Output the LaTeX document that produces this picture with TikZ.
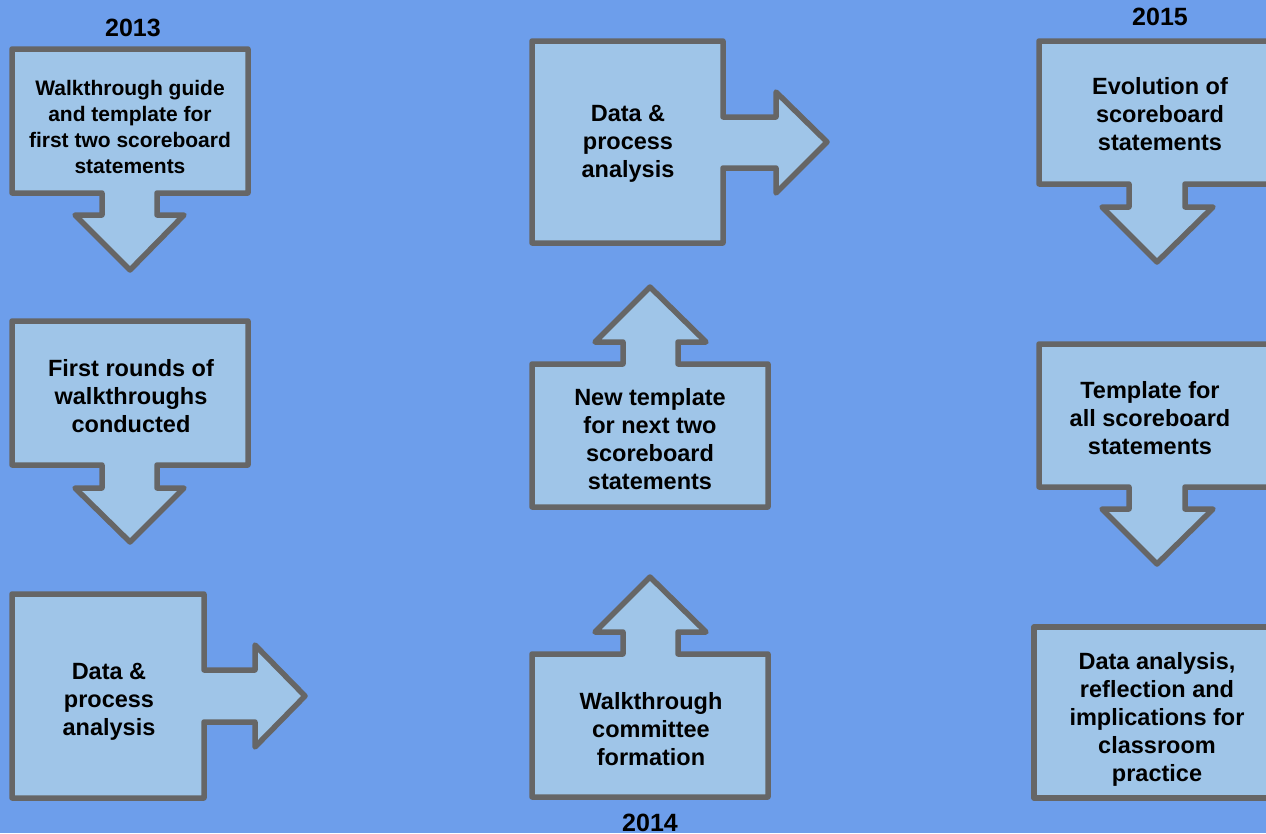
\documentclass[tikz,border=0pt]{standalone}
\usepackage{fontspec}
\setmainfont{Liberation Sans}
\definecolor{bgblue}{HTML}{6D9EEB}
\definecolor{boxfill}{HTML}{9FC5E8}
\definecolor{boxline}{HTML}{666666}
\tikzset{
  callout/.style={draw=boxline, fill=boxfill, line width=5.5pt, line join=round},
  boxtext/.style={align=center, text=black, font=\fontsize{23.5}{28}\selectfont\bfseries, inner sep=0pt},
  smalltext/.style={align=center, text=black, font=\fontsize{21}{26}\selectfont\bfseries, inner sep=0pt},
  yeartext/.style={text=black, font=\fontsize{25}{30}\selectfont\bfseries, inner sep=0pt}
}
\begin{document}
\begin{tikzpicture}[x=1pt,y=-1pt]
\useasboundingbox (0,0) rectangle (1266,833);
\fill[bgblue] (0,0) rectangle (1266,833);
\clip (0,0) rectangle (1266,833);
% left column
\draw[callout] (12,49)--(248,49)--(248,193)--(157,193)--(157,215)--(184,215)--(130,270)--(75,215)--(102,215)--(102,193)--(12,193)--cycle;
\draw[callout] (12,321)--(248,321)--(248,465)--(157,465)--(157,488)--(184,488)--(130,542)--(75,488)--(102,488)--(102,465)--(12,465)--cycle;
\draw[callout] (12,594)--(204,594)--(204,670)--(255,670)--(255,645)--(305,696)--(255,747)--(255,722)--(204,722)--(204,798)--(12,798)--cycle;
% middle column
\draw[callout] (532,41)--(723,41)--(723,117)--(776,117)--(776,92)--(827,142)--(776,193)--(776,168)--(723,168)--(723,243)--(532,243)--cycle;
\draw[callout] (532,364)--(623,364)--(623,342)--(595,342)--(650,287)--(706,342)--(678,342)--(678,364)--(768,364)--(768,507)--(532,507)--cycle;
\draw[callout] (532,654)--(623,654)--(623,632)--(595,632)--(650,577)--(706,632)--(678,632)--(678,654)--(768,654)--(768,797)--(532,797)--cycle;
% right column
\draw[callout] (1039,41)--(1275,41)--(1275,184)--(1185,184)--(1185,207)--(1213,207)--(1157,262)--(1102,207)--(1129,207)--(1129,184)--(1039,184)--cycle;
\draw[callout] (1039,344)--(1275,344)--(1275,487)--(1185,487)--(1185,509)--(1213,509)--(1157,564)--(1102,509)--(1129,509)--(1129,487)--(1039,487)--cycle;
\draw[callout] (1034,627)--(1280,627)--(1280,798)--(1034,798)--cycle;
% texts
\node[yeartext] (y2013) at (133,28) {2013};
\node[yeartext] (y2014) at (650,823) {2014};
\node[yeartext] (y2015) at (1160,17) {2015};
\node[smalltext] (t1) at (130,127) {Walkthrough guide\\and template for\\first two scoreboard\\statements};
\node[boxtext] (t2) at (131,396) {First rounds of\\walkthroughs\\conducted};
\node[boxtext] (t3) at (109,702) {Data \&\\process\\analysis};
\node[boxtext] (t4) at (628,144) {Data \&\\process\\analysis};
\node[boxtext] (t5) at (650,439) {New template\\for next two\\scoreboard\\statements};
\node[boxtext] (t6) at (651,729) {Walkthrough\\committee\\formation};
\node[boxtext] (t7) at (1160,114) {Evolution of\\scoreboard\\statements};
\node[boxtext] (t8) at (1150,418) {Template for\\all scoreboard\\statements};
\node[boxtext] (t9) at (1157,719) {Data analysis,\\reflection and\\implications for\\classroom\\practice};
\end{tikzpicture}
\end{document}
